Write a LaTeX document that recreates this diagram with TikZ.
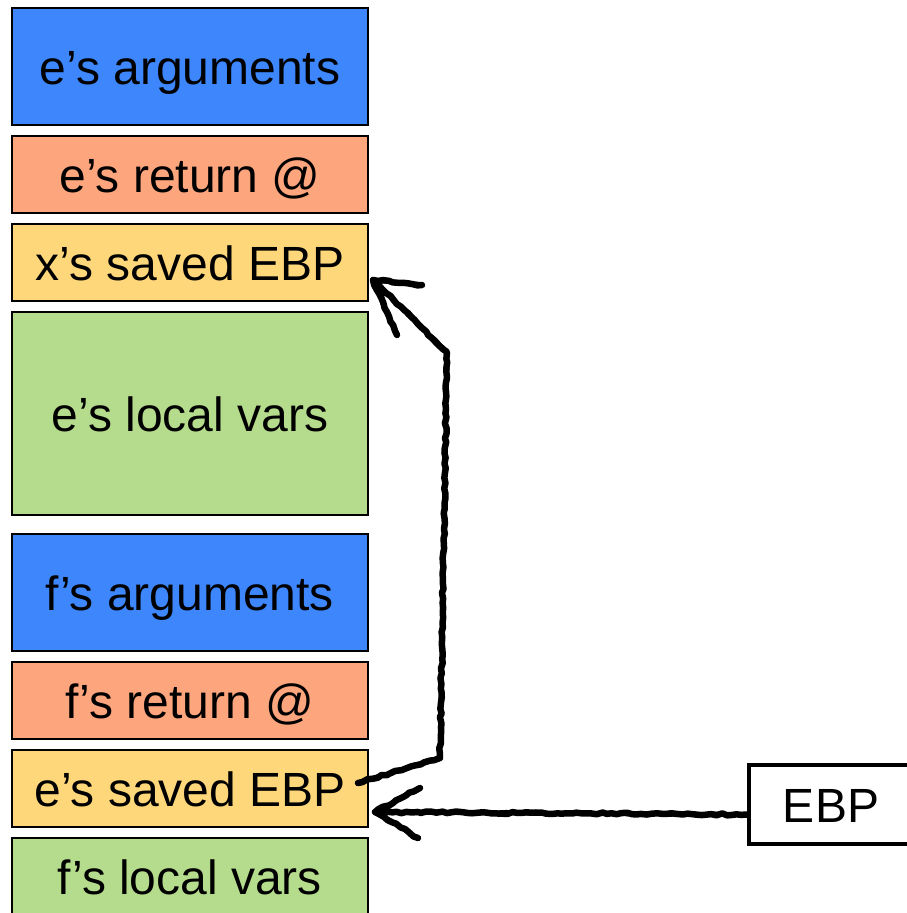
\documentclass[tikz,border=0pt]{standalone}
\usepackage{fontspec}
\setmainfont{Liberation Sans}
\usetikzlibrary{positioning,decorations.pathmorphing}
\definecolor{argblue}{HTML}{3D86FC}
\definecolor{retsalmon}{HTML}{FDA57D}
\definecolor{ebpyellow}{HTML}{FDD77A}
\definecolor{locgreen}{HTML}{B5DB8D}
\tikzset{
	slot/.style={draw=black, line width=2pt, minimum width=356pt, inner sep=0pt, text height=35pt, text depth=0pt, font=\fontsize{48}{56}\selectfont},
	sketch/.style={line width=6.5pt, line join=round, line cap=round, decorate, decoration={random steps, segment length=5pt, amplitude=1pt}}
}
\begin{document}
\begin{tikzpicture}[x=1pt,y=1pt]
				\useasboundingbox (0,0) rectangle (907,-913);
				\node[slot, fill=argblue, minimum height=117pt] (eargs) at (190,-66.5) {e’s arguments};
				\node[slot, fill=retsalmon, minimum height=77pt, below=9pt of eargs] (eret) {e’s return @};
				\node[slot, fill=ebpyellow, minimum height=77pt, below=9pt of eret] (xsaved) {x’s saved EBP};
				\node[slot, fill=locgreen, minimum height=203pt, below=9pt of xsaved] (elocal) {e’s local vars};
				\node[slot, fill=argblue, minimum height=117pt, below=17pt of elocal] (fargs) {f’s arguments};
				\node[slot, fill=retsalmon, minimum height=77pt, below=9pt of fargs] (fret) {f’s return @};
				\node[slot, fill=ebpyellow, minimum height=77pt, below=9pt of fret] (esaved) {e’s saved EBP};
				\node[slot, fill=locgreen, minimum height=77pt, below=9pt of esaved] (flocal) {f’s local vars};
				\node[draw=black, line width=4.5pt, minimum width=164pt, minimum height=79pt, text height=35pt, text depth=0pt, font=\fontsize{48}{56}\selectfont] (ebp) at (831,-804.5) {EBP};
				\coordinate (tipA) at ([xshift=4pt,yshift=-17.5pt]xsaved.east);
				\coordinate (tipB) at ([xshift=6pt,yshift=-23.5pt]esaved.east);
				\coordinate (fromA) at ([xshift=-11pt,yshift=5.5pt]esaved.east);
				\coordinate (fromB) at ([yshift=-10pt]ebp.west);
				\coordinate (bendlow) at (440,-758);
				\coordinate (bendhigh) at (447,-352);
				\draw[sketch] (fromA) -- (bendlow) -- (bendhigh) -- (tipA) -- ++(49,-5) (tipA) -- ++(24,-55);
				\draw[sketch, line width=4pt, xshift=2.5pt, yshift=-2pt] (fromA) -- (bendlow) -- (bendhigh) -- (tipA) -- ++(49,-5) (tipA) -- ++(24,-55);
				\draw[sketch] (fromB) -- (tipB) -- ++(45,24) (tipB) -- ++(43,-26);
				\draw[sketch, line width=4pt, xshift=2pt, yshift=-2.5pt] (fromB) -- (tipB) -- ++(45,24) (tipB) -- ++(43,-26);
	\end{tikzpicture}
\end{document}
